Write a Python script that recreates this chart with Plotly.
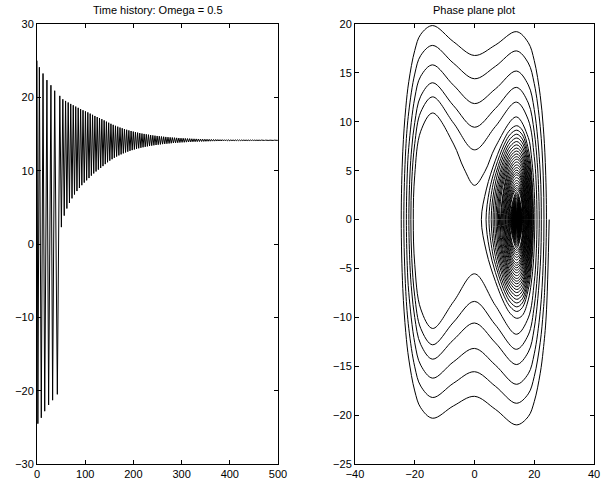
import plotly.graph_objects as go

# ---------------- data ----------------
# time history: turning points of the displacement while it still swings across both wells
cross_t = [0.0, 1.8, 4.9, 8.9, 12.5, 16.0, 20.6, 24.1, 28.9, 32.4, 36.7, 42.2]
cross_x = [25.0, -24.5, 24.1, -23.7, 23.25, -22.8, 22.35, -21.95, 21.65, -21.3, 20.9, -20.5]

# time history: turning points once trapped in the right-hand well
well_t = [47.3, 50.6, 53.6, 56.5, 59.3, 62.0, 64.7, 67.35, 70.0, 72.6, 75.2, 77.8, 80.35, 82.9,
          85.45, 88.0, 90.5, 93.0, 95.5, 98.0, 100.5, 103.0, 105.45, 107.9, 110.35, 112.8, 115.25,
          117.7, 120.1, 122.5, 124.9, 127.3, 129.7, 132.1, 134.5, 136.9, 139.3, 141.65, 144.0,
          146.35, 148.7, 151.05, 153.4, 155.75, 158.1, 160.45, 162.8, 165.15, 167.5, 169.85, 172.2,
          174.5, 176.8, 179.1, 181.4, 183.7, 186.0, 188.3, 190.6, 192.9, 195.2,
          197.5, 199.75, 202.0, 204.25, 206.5, 208.75, 211.0, 213.25, 215.5, 217.75, 220.0, 222.25,
          224.5, 226.75, 229.0, 231.25, 233.5, 235.75, 238.0, 240.25, 242.5, 244.75, 247.0, 249.25,
          251.5, 253.75, 256.0, 258.25, 260.5, 262.75, 265.0, 267.25, 269.5, 271.75, 274.0, 276.25,
          278.5, 280.75, 283.0, 285.25, 287.5, 289.75, 292.0, 294.25, 296.5, 298.75, 301.0, 303.25,
          305.5, 307.75, 310.0, 312.25, 314.5, 316.75, 319.0, 321.25, 323.5, 325.75, 328.0, 330.25,
          332.5, 334.75, 337.0, 339.25, 341.5, 343.75, 346.0, 348.25, 350.5, 352.75, 355.0, 357.25,
          359.5, 361.75, 364.0, 366.25, 368.5, 370.75, 373.0, 375.25, 377.5, 379.75, 382.0, 384.25,
          386.5, 388.75, 391.0, 393.25, 395.5, 397.75, 400.0, 402.25, 404.5, 406.75, 409.0, 411.25,
          413.5, 415.75, 418.0, 420.25, 422.5, 424.75, 427.0, 429.25, 431.5, 433.75, 436.0, 438.25,
          440.5, 442.75, 445.0, 447.25, 449.5, 451.75, 454.0, 456.25, 458.5, 460.75, 463.0, 465.25,
          467.5, 469.75, 472.0, 474.25, 476.5, 478.75, 481.0, 483.25, 485.5, 487.75, 490.0, 492.25,
          494.5, 496.75, 499.0]
well_x = [20.2, 2.30, 19.74, 3.87, 19.51, 4.84, 19.30, 5.59, 19.10, 6.22, 18.92, 6.75, 18.74, 7.22,
          18.57, 7.64, 18.40, 8.02, 18.24, 8.37, 18.09, 8.68, 17.95, 8.99, 17.78, 9.32, 17.62, 9.62,
          17.46, 9.89, 17.31, 10.14, 17.17, 10.37, 17.03, 10.62, 16.86, 10.89, 16.69, 11.14, 16.54,
          11.36, 16.39, 11.56, 16.25, 11.75, 16.12, 11.92, 16.00, 12.08, 15.88, 12.22, 15.78, 12.36,
          15.68, 12.48, 15.58, 12.59, 15.49, 12.70, 15.41,
          12.80, 15.33, 12.89, 15.26, 12.97, 15.19, 13.05, 15.12, 13.12, 15.06, 13.19, 15.01, 13.25,
          14.96, 13.31, 14.91, 13.36, 14.86, 13.41, 14.81, 13.46, 14.77, 13.50, 14.73, 13.54, 14.70,
          13.58, 14.66, 13.62, 14.63, 13.65, 14.60, 13.68, 14.57, 13.71, 14.54, 13.74, 14.52, 13.77,
          14.50, 13.79, 14.47, 13.81, 14.45, 13.84, 14.43, 13.86, 14.42, 13.87, 14.40, 13.89, 14.38,
          13.91, 14.37, 13.92, 14.35, 13.94, 14.34, 13.95, 14.33,
          13.96, 14.32, 13.97, 14.31, 13.98, 14.29, 13.99, 14.29, 14.00, 14.28, 14.01, 14.27, 14.02,
          14.26, 14.03, 14.25, 14.03, 14.25, 14.04, 14.24, 14.05, 14.23, 14.05, 14.23, 14.06, 14.22,
          14.06, 14.22, 14.07, 14.21, 14.07, 14.21, 14.08, 14.20, 14.08, 14.20, 14.09, 14.20, 14.09,
          14.19, 14.09, 14.19, 14.10, 14.19, 14.10, 14.18, 14.10, 14.18, 14.10, 14.18, 14.11, 14.18,
          14.11, 14.17, 14.11, 14.17, 14.11, 14.17, 14.11, 14.17, 14.12, 14.17, 14.12, 14.16, 14.12,
          14.16, 14.12, 14.16, 14.12, 14.16, 14.12, 14.16, 14.12, 14.16, 14.13]
t_end, x_end = 500.0, 14.14

# phase plane: points along the passes that cross from well to well (x, dx/dt)
outer_pts = [
    (25, 0),
    (24, -9.86), (23, -13.38), (22, -15.72), (20, -18.62), (18, -20.15), (14, -21.0), (7, -19.41),
    (0, -18.08), (-7, -19.05), (-14, -20.32), (-18, -19.25), (-20, -17.53), (-22, -14.26),
    (-23, -11.56), (-24, -7.06), (-24.52, 0),
    (-24, 6.99), (-23, 11.43), (-22, 14.1), (-20, 17.29), (-18, 18.94), (-14, 19.84), (-7, 18.18),
    (0, 16.78), (7, 17.85), (14, 19.22), (18, 18.1), (20, 16.26), (22, 12.69), (23, 9.55),
    (23.7, 5.83), (24.08, 0),
    (23.5, -7.09), (23, -9.46), (22, -12.55), (20, -16.05), (18, -17.83), (14, -18.79), (7, -17.05),
    (0, -15.56), (-7, -16.73), (-14, -18.2), (-18, -17.03), (-20, -15.06), (-22, -11.12),
    (-23, -7.35), (-23.66, 0),
    (-23, 7.28), (-22, 11.01), (-20, 14.88), (-18, 16.78), (-14, 17.81), (-7, 15.98), (0, 14.4),
    (7, 15.67), (14, 17.25), (18, 16.01), (20, 13.9), (22, 9.5), (23, 4.54), (23.25, 0),
    (23, -4.49), (22, -9.4), (20, -13.73), (18, -15.77), (14, -16.85), (7, -14.89), (0, -13.18),
    (-7, -14.54), (-14, -16.22), (-18, -14.89), (-20, -12.6), (-22, -7.46), (-22.5, -4.73), (-22.8, 0),
    (-22.5, 4.67), (-22, 7.38), (-20, 12.43), (-18, 14.66), (-14, 15.82), (-7, 13.73), (0, 11.86),
    (7, 13.36), (14, 15.19), (18, 13.77), (20, 11.25), (22, 4.86), (22.36, 0),
    (22, -4.8), (20, -11.11), (18, -13.56), (14, -14.83), (7, -12.61), (0, -10.58), (-7, -12.29),
    (-14, -14.28), (-18, -12.78), (-20, -10.02), (-21, -7.4), (-21.6, -4.69), (-21.97, 0),
    (-21.6, 4.66), (-21, 7.33), (-20, 9.92), (-18, 12.62), (-14, 13.99), (-7, 11.64), (0, 9.44),
    (7, 11.36), (14, 13.52), (18, 11.93), (20, 8.94), (21, 5.85), (21.4, 3.6), (21.67, 0),
    (21.4, -3.6), (21, -5.81), (20, -8.85), (18, -11.8), (14, -13.27), (7, -10.77), (0, -8.37),
    (-7, -10.49), (-14, -12.81), (-18, -11.13), (-20, -7.84), (-21, -3.97), (-21.3, 0),
    (-21, 3.92), (-20, 7.76), (-18, 10.99), (-14, 12.55), (-7, 9.86), (0, 7.13), (7, 9.52),
    (14, 12.01), (18, 10.2), (20, 6.43), (20.6, 3.97), (20.92, 0),
    (20.6, -3.9), (20, -6.37), (18, -10.06), (14, -11.73), (7, -8.79), (0, -5.55), (-7, -8.39),
    (-14, -11.14), (-18, -9.14), (-20, -4.58), (-20.49, 0),
    (-20, 4.54), (-18, 9.03), (-14, 10.9), (-7, 7.72), (-3.5, 5.2), (0, 3.5), (3.5, 4.93),
    (7, 7.43), (14, 10.5), (18, 8.39), (19, 6.62), (20, 2.86), (20.2, 0),
]

# phase plane: the first, large loops inside the right-hand well
inwell_pts = [
    (19.8, -3.97), (19, -6.5), (18, -8.22), (16, -9.81), (14.14, -10.1), (12, -9.62), (10, -8.6),
    (7, -6.32), (4, -3.31), (2.3, 0),
    (4, 3.13), (7, 6.07), (10, 8.25), (12, 9.21), (14.14, 9.6), (16, 9.15), (18, 7.24), (19, 5.06), (19.74, 0),
    (19, -5.0), (18, -7.16), (16, -9.01), (14.14, -9.4), (12, -8.94), (10, -7.89), (7, -5.42), (5, -3.0), (3.87, 0),
    (5, 2.97), (7, 5.29), (10, 7.71), (12, 8.73), (14.14, 9.14), (16, 8.67), (18, 6.62), (19, 4.12), (19.51, 0),
    (19, -4.09), (18, -6.54), (16, -8.53), (14.14, -8.93), (12, -8.45), (10, -7.33), (7, -4.6), (6, -3.3), (4.84, 0),
    (6, 3.27), (7, 4.54), (10, 7.21), (12, 8.29), (14.14, 8.73), (16, 8.23), (18, 6.05), (19, 3.13), (19.30, 0),
    (19, -3.1), (18, -5.97), (16, -8.11), (14.14, -8.53), (12, -8.02), (10, -6.84), (7, -3.78), (5.59, 0),
    (7, 3.74), (10, 6.74), (12, 7.89), (14.14, 8.34), (16, 7.84), (18, 5.48), (19.10, 0),
    (18, -5.42), (16, -7.71), (14.14, -8.16), (12, -7.63), (10, -6.37), (7, -2.86), (6.22, 0),
    (7, 2.83), (10, 6.29), (12, 7.51), (14.14, 7.98), (16, 7.44), (18, 4.92), (18.92, 0),
    (18, -4.86), (16, -7.33), (14.14, -7.81), (12, -7.25), (10, -5.92), (7.5, -2.84), (6.75, 0),
    (7.5, 2.8), (10, 5.85), (12, 7.14), (14.14, 7.64), (16, 7.07), (18, 4.35), (18.74, 0),
    (18, -4.3), (16, -6.97), (14.14, -7.47), (12, -6.9), (10, -5.48), (8, -2.91), (7.22, 0),
    (8, 2.89), (10, 5.4), (12, 6.78), (14.14, 7.31), (16, 6.72), (18, 3.75), (18.57, 0),
    (18, -3.71), (16, -6.63), (14.14, -7.16), (12, -6.56), (10, -5.04), (8.3, -2.68), (7.64, 0),
    (8.3, 2.65), (10, 4.98), (12, 6.45), (14.14, 7.01), (16, 6.39), (17.5, 4.47), (18.40, 0),
    (17.5, -4.44), (16, -6.31), (14.14, -6.86), (12, -6.23), (10, -4.6), (8.6, -2.52), (8.02, 0),
    (8.6, 2.5), (10, 4.56), (12, 6.14), (14.14, 6.71), (16, 6.07), (17.5, 4.0), (18.24, 0),
    (17.5, -3.97), (16, -5.99), (14.14, -6.57), (12, -5.91), (10, -4.17), (8.9, -2.42), (8.37, 0),
    (8.9, 2.39), (10, 4.12), (12, 5.82), (14.14, 6.43), (16, 5.76), (17.5, 3.52), (18.09, 0),
    (17.5, -3.49), (16, -5.68), (14.14, -6.30), (12, -5.61), (10, -3.74), (9.2, -2.37), (8.68, 0),
]

# phase plane: peak speed of each later half-loop (read at the well centre), loops 21 -> 120
x_eq = 14.14
loop_v = [6.17, 6.03, 5.89, 5.74, 5.59, 5.45, 5.31, 5.18, 5.05, 4.93, 4.80, 4.68, 4.57, 4.44,
          4.29, 4.14, 4.00, 3.87, 3.74, 3.61, 3.49, 3.38, 3.26, 3.15, 3.05, 2.95, 2.85, 2.75,
          2.66, 2.57, 2.49, 2.41, 2.33, 2.25, 2.18, 2.11, 2.04, 1.97, 1.90, 1.84, 1.78, 1.73,
          1.67, 1.62, 1.56, 1.51, 1.47, 1.42, 1.37, 1.33, 1.29, 1.24, 1.20, 1.17, 1.13, 1.09,
          1.06, 1.02, 0.99, 0.96, 0.93, 0.90, 0.87, 0.84, 0.81, 0.79, 0.76, 0.74, 0.71, 0.69,
          0.67, 0.65, 0.63, 0.61, 0.59, 0.57, 0.55, 0.53, 0.52, 0.50, 0.48, 0.47, 0.45, 0.44,
          0.42, 0.41, 0.40, 0.38, 0.37, 0.36, 0.35, 0.34, 0.33, 0.32, 0.31, 0.30, 0.29, 0.28, 0.27]
first_loop = 21

# phase plane: shoulder points (x, dx/dt) of the half-loops 21 -> 46, before and after the centre
loop_shoulders = [
    ((11.41, 5.09), (16.05, 5.46)), ((16.05, -5.30), (11.57, -5.04)),
    ((11.57, 4.87), (15.96, 5.21)), ((15.96, -5.04), (11.73, -4.81)),
    ((11.73, 4.64), (15.88, 4.94)), ((15.88, -4.78), (11.88, -4.58)),
    ((11.88, 4.42), (15.80, 4.69)), ((15.80, -4.54), (12.02, -4.37)),
    ((12.02, 4.22), (15.73, 4.46)), ((15.73, -4.32), (12.14, -4.17)),
    ((12.14, 4.02), (15.66, 4.24)), ((15.66, -4.10), (12.26, -3.96)),
    ((12.26, 3.83), (15.59, 4.03)), ((15.59, -3.88), (12.38, -3.77)),
    ((12.38, 3.60), (15.50, 3.78)), ((15.50, -3.62), (12.52, -3.53)),
    ((12.52, 3.37), (15.42, 3.53)), ((15.42, -3.38), (12.64, -3.31)),
    ((12.64, 3.15), (15.34, 3.29)), ((15.34, -3.15), (12.75, -3.09)),
    ((12.75, 2.95), (15.27, 3.08)), ((15.27, -2.94), (12.85, -2.89)),
    ((12.85, 2.76), (15.20, 2.87)), ((15.20, -2.75), (12.95, -2.71)),
    ((12.95, 2.58), (15.13, 2.68)),
]

# axes ticks
th_xticks = [0, 100, 200, 300, 400, 500]
th_yticks = [-30, -20, -10, 0, 10, 20, 30]
pp_xticks = [-40, -20, 0, 20, 40]
pp_yticks = [-25, -20, -15, -10, -5, 0, 5, 10, 15, 20]

# ---------------- assemble series ----------------
th_t = cross_t + well_t + [t_end]
th_x = cross_x + well_x + [x_end]

phase_x = [p[0] for p in outer_pts] + [p[0] for p in inwell_pts]
phase_v = [p[1] for p in outer_pts] + [p[1] for p in inwell_pts]
for k, v in enumerate(loop_v):
    i = first_loop + k
    sgn = 1 if i % 2 == 1 else -1   # leaving a left turning point the speed is positive
    if k < len(loop_shoulders):
        (xa, va), (xb, vb) = loop_shoulders[k]
        phase_x += [xa, x_eq, xb, well_x[i + 1]]
        phase_v += [va, sgn * v, vb, 0.0]
    else:
        phase_x += [x_eq, well_x[i + 1]]
        phase_v += [sgn * v, 0.0]

# ---------------- figure ----------------
FONT = "Liberation Sans, Arial, Helvetica, sans-serif"
fig = go.Figure()
fig.add_trace(go.Scatter(x=th_t, y=th_x, mode="lines",
                         line=dict(color="black", width=1),
                         xaxis="x", yaxis="y", showlegend=False, hoverinfo="skip"))
fig.add_trace(go.Scatter(x=phase_x, y=phase_v, mode="lines",
                         line=dict(color="black", width=1, shape="spline", smoothing=1.0),
                         xaxis="x2", yaxis="y2", showlegend=False, hoverinfo="skip"))

ax = dict(showline=True, linecolor="black", linewidth=1, mirror="ticks", ticks="inside",
          ticklen=4, tickwidth=1, tickcolor="black", showgrid=False, zeroline=False,
          automargin=False,
          tickfont=dict(family=FONT, size=11, color="black"), fixedrange=True)

L_DOM = [0.0, 0.4327]
R_DOM = [0.5709, 1.0]
fig.update_layout(
    width=608, height=484,
    margin=dict(l=37, r=14, t=24, b=20, autoexpand=False),
    paper_bgcolor="white", plot_bgcolor="white",
    font=dict(family=FONT, size=11, color="black"),
    xaxis=dict(ax, domain=L_DOM, range=[0, 500], tickvals=th_xticks, anchor="y"),
    yaxis=dict(ax, domain=[0, 1], range=[-30, 30], tickvals=th_yticks, anchor="x"),
    xaxis2=dict(ax, domain=R_DOM, range=[-40, 40], tickvals=pp_xticks, anchor="y2"),
    yaxis2=dict(ax, domain=[0, 1], range=[-25, 20], tickvals=pp_yticks, anchor="x2"),
    annotations=[
        dict(text="Time history: Omega = 0.5", xref="paper", yref="paper",
             x=sum(L_DOM) / 2, y=1, xanchor="center", yanchor="bottom", yshift=6,
             showarrow=False, font=dict(family=FONT, size=11, color="black")),
        dict(text="Phase plane plot", xref="paper", yref="paper",
             x=sum(R_DOM) / 2, y=1, xanchor="center", yanchor="bottom", yshift=6,
             showarrow=False, font=dict(family=FONT, size=11, color="black")),
    ],
)

# remove the browser's default 8px page margin so the figure sits at the window origin
fig.write_html("out.html", config={"displayModeBar": False},
               post_script="document.body.style.margin='0';document.body.style.overflow='hidden';")
